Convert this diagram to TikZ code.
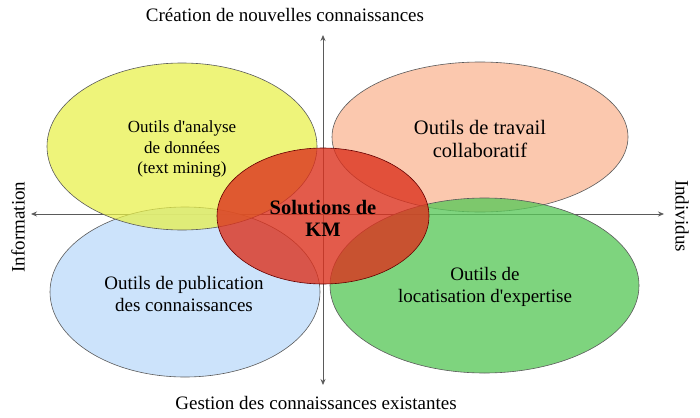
\documentclass[tikz,border=0pt]{standalone}
\usepackage{fontspec}
\setmainfont{Liberation Serif}[Ligatures=TeXOff]
\usetikzlibrary{shapes.geometric,arrows.meta}
\definecolor{cyel}{RGB}{232,240,70}
\definecolor{cpink}{RGB}{250,190,160}
\definecolor{cblue}{RGB}{195,222,250}
\definecolor{cgreen}{RGB}{90,200,90}
\definecolor{cred}{RGB}{220,50,30}
\definecolor{cline}{RGB}{90,90,90}
\tikzset{
  blob/.style={ellipse, draw=cline, line width=0.6pt, inner sep=0pt},
  axis/.style={draw=cline, line width=0.8pt, {Stealth[length=6pt,width=5pt]}-{Stealth[length=6pt,width=5pt]}},
  lbl/.style={align=center, text=black, inner sep=0pt},
}
\begin{document}
\begin{tikzpicture}[x=1pt,y=-1pt]
\useasboundingbox (0,0) rectangle (700,417);
% axes
\coordinate (vtop) at (323,35);
\coordinate (vbot) at (323,385);
\coordinate (hleft) at (31,214);
\coordinate (hright) at (664,214);
\draw[axis] (vbot) -- (vtop);
\draw[axis] (hleft) -- (hright);
% ellipses
\node[blob, fill=cblue, fill opacity=0.85, minimum width=270pt, minimum height=170pt] (blue) at (185,292) {};
\node[blob, fill=cyel, fill opacity=0.72, minimum width=270pt, minimum height=167pt] (yellow) at (182,146.5) {};
\node[blob, fill=cpink, fill opacity=0.85, minimum width=296pt, minimum height=150pt] (pink) at (480,137) {};
\node[blob, fill=cgreen, fill opacity=0.78, minimum width=309pt, minimum height=175pt] (green) at (484.5,285.5) {};
\node[blob, draw=red!40!black, fill=cred, fill opacity=0.8, minimum width=212pt, minimum height=136pt] (red) at (323,216) {};
% texts
\node[lbl, font=\fontsize{17}{20.5}\selectfont] (tyellow) at (182,149) {Outils d'analyse\\de données\\(text mining)};
\node[lbl, font=\fontsize{20.5}{23}\selectfont] (tpink) at (480,139) {Outils de travail\\collaboratif};
\node[lbl, font=\fontsize{20.5}{22}\selectfont\bfseries] (tred) at (323,218) {Solutions de\\KM};
\node[lbl, font=\fontsize{19}{22}\selectfont] (tblue) at (184,294) {Outils de publication\\des connaissances};
\node[lbl, font=\fontsize{19}{22}\selectfont] (tgreen) at (485,287) {Outils de\\locatisation d'expertise};
\node[lbl, font=\fontsize{19}{22}\selectfont] (ttop) at (285,15) {Création de nouvelles connaissances};
\node[lbl, font=\fontsize{19}{22}\selectfont] (tbot) at (316,403) {Gestion des connaissances existantes};
\node[lbl, font=\fontsize{19}{22}\selectfont, rotate=90] (tleft) at (18,227) {Information};
\node[lbl, font=\fontsize{19}{22}\selectfont, rotate=-90] (tright) at (682,216) {Individus};
\end{tikzpicture}
\end{document}
